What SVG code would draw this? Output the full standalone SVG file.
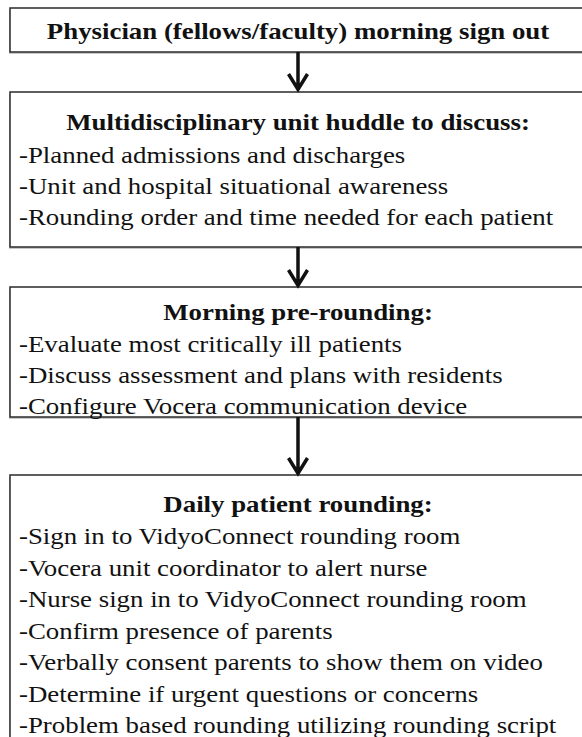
<svg xmlns="http://www.w3.org/2000/svg" width="582" height="737" viewBox="0 0 582 737">
<style>
.box{fill:#fff;stroke:#2a2a2a;stroke-width:1.5}
.sh{fill:#c8c8c8}
.t{font-family:"Liberation Serif","Times New Roman",serif;font-size:23px;fill:#111}
.h{font-family:"Liberation Serif","Times New Roman",serif;font-size:23px;font-weight:bold;fill:#111;text-anchor:middle}
.c{stroke:#111;stroke-width:3.5;fill:none}
</style>
<rect width="582" height="737" fill="#fff"/>
<g id="node1">
<rect class="sh" x="9" y="10" width="580" height="44"/>
<rect class="box" x="10" y="8" width="580" height="44"/>
<g transform="matrix(1.167 0 0 1 0 0)">
<text class="h" x="255.4" y="39">Physician (fellows/faculty) morning sign out</text>
</g>
</g>
<g id="node2">
<rect class="sh" x="9" y="94" width="580" height="155"/>
<rect class="box" x="10" y="92" width="580" height="155"/>
<g transform="matrix(1.167 0 0 1 0 0)">
<text class="h" x="255.4" y="130">Multidisciplinary unit huddle to discuss:</text>
<text class="t" x="16.3" y="163">-Planned admissions and discharges</text>
<text class="t" x="16.3" y="194">-Unit and hospital situational awareness</text>
<text class="t" x="16.3" y="225">-Rounding order and time needed for each patient</text>
</g>
</g>
<g id="node3">
<rect class="sh" x="9" y="289" width="580" height="130"/>
<rect class="box" x="10" y="287" width="580" height="130"/>
<g transform="matrix(1.167 0 0 1 0 0)">
<text class="h" x="255.4" y="320">Morning pre-rounding:</text>
<text class="t" x="16.3" y="352">-Evaluate most critically ill patients</text>
<text class="t" x="16.3" y="383">-Discuss assessment and plans with residents</text>
<text class="t" x="16.3" y="414">-Configure Vocera communication device</text>
</g>
</g>
<g id="node4">
<rect class="sh" x="9" y="477" width="580" height="290"/>
<rect class="box" x="10" y="475" width="580" height="290"/>
<g transform="matrix(1.167 0 0 1 0 0)">
<text class="h" x="255.4" y="512">Daily patient rounding:</text>
<text class="t" x="16.3" y="544">-Sign in to VidyoConnect rounding room</text>
<text class="t" x="16.3" y="576">-Vocera unit coordinator to alert nurse</text>
<text class="t" x="16.3" y="607">-Nurse sign in to VidyoConnect rounding room</text>
<text class="t" x="16.3" y="639">-Confirm presence of parents</text>
<text class="t" x="16.3" y="670">-Verbally consent parents to show them on video</text>
<text class="t" x="16.3" y="702">-Determine if urgent questions or concerns</text>
<text class="t" x="16.3" y="733">-Problem based rounding utilizing rounding script</text>
</g>
</g>
<g id="connectors">
<path class="c" d="M298,52 V89 M288.5,74 L298,89.5 L307.5,74"/>
<path class="c" d="M298,247 V285 M288.5,270 L298,285.5 L307.5,270"/>
<path class="c" d="M298,417 V473 M288.5,458 L298,473.5 L307.5,458"/>
</g>
</svg>
